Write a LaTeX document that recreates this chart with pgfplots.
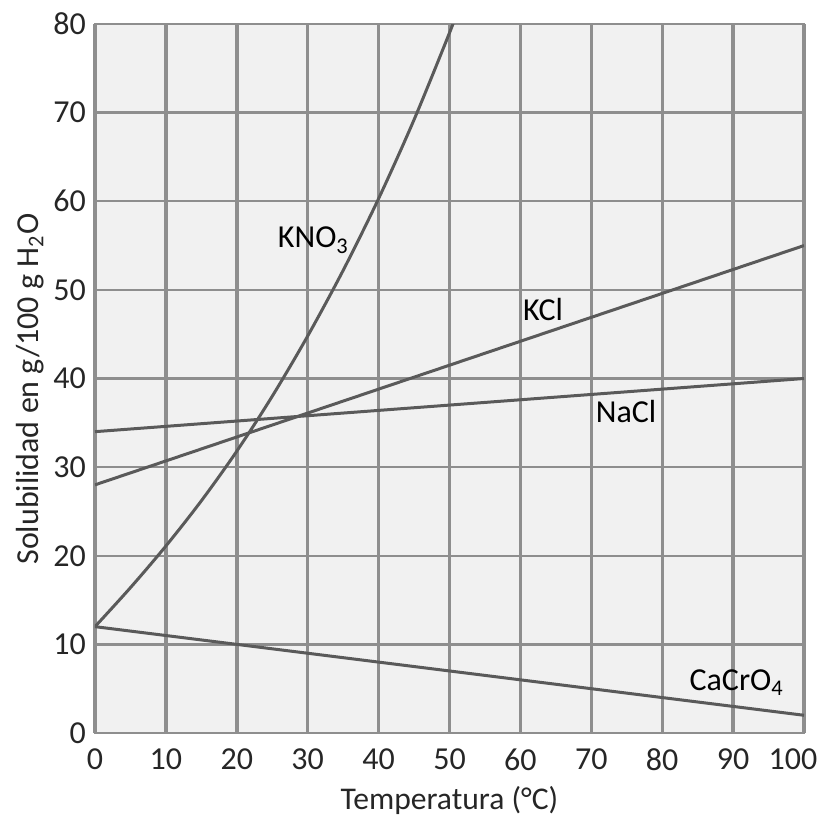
\documentclass[border=0pt]{standalone}
\usepackage{fontspec}
\setmainfont{Carlito}
\usepackage{pgfplots}
\pgfplotsset{compat=1.18}
\definecolor{bgc}{HTML}{F1F1F1}
\definecolor{gridc}{HTML}{8E8E8E}
\definecolor{curvec}{HTML}{5A5A5A}
\begin{document}
\begin{tikzpicture}
\begin{axis}[
    scale only axis,
    width=354.5pt, height=354.5pt,
    xmin=0, xmax=100, ymin=0, ymax=80,
    xtick={0,10,...,100}, ytick={0,10,...,80},
    xticklabels={0,10,20,30,40,50,60,70,80,90,\makebox[0pt]{\kern-11pt 100}},
    major tick length=0pt,
    axis line style={gridc, line width=1pt},
    axis background/.style={fill=bgc},
    grid=major,
    x grid style={gridc, line width=1.7pt},
    y grid style={gridc, line width=1.2pt},
    tick label style={font=\fontsize{16}{18}\selectfont, text=black!85},
    /pgf/number format/assume math mode=true,
    xticklabel style={yshift=-4.5pt},
    yticklabel style={xshift=-1pt},
    xlabel={Temperatura (°C)},
    ylabel={Solubilidad en g/100 g H\textsubscript{2}O},
    xlabel style={font=\fontsize{15.8}{18}\selectfont, text=black!85, at={(axis description cs:0.5,-0.095)}, anchor=center},
    ylabel style={font=\fontsize{16}{18}\selectfont, text=black!85, at={(axis description cs:-0.092,0.485)}, anchor=center},
    clip=true,
]
% KNO3
\addplot[curvec, line width=1.5pt, smooth] coordinates {
(0,12)(5,16.4)(10,21.1)(15,26.2)(20,31.8)(25,38)(30,44.8)(35,52.2)(40,60.3)(45,69.2)(50,79)(51,81.2)
};
% KCl
\addplot[curvec, line width=1.5pt] coordinates {(0,28)(100,55)};
% NaCl
\addplot[curvec, line width=1.5pt] coordinates {(0,34)(100,40)};
% CaCrO4
\addplot[curvec, line width=1.5pt] coordinates {(0,12)(100,2)};
\node[font=\fontsize{16}{18}\selectfont] at (axis cs:30.8,55.6) {KNO\textsubscript{3}};
\node[font=\fontsize{16}{18}\selectfont] at (axis cs:63.2,47.8) {KCl};
\node[font=\fontsize{16}{18}\selectfont] at (axis cs:74.9,36.3) {NaCl};
\node[font=\fontsize{16}{18}\selectfont] at (axis cs:90.5,5.7) {CaCrO\textsubscript{4}};
\end{axis}
\pgfresetboundingbox
\path (-47.5pt,-45pt) rectangle (363.5pt,366.5pt);
\end{tikzpicture}
\end{document}
